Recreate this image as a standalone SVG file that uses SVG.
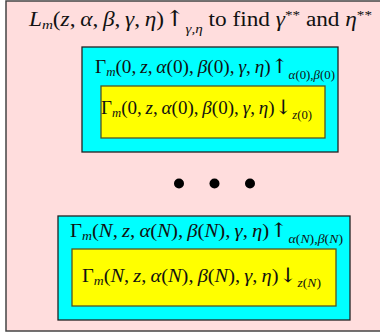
<svg xmlns="http://www.w3.org/2000/svg" width="380" height="334" viewBox="0 0 380 334">
<style>
.t{font-family:"Liberation Serif","DejaVu Serif",serif;fill:#111;}
.i{font-style:italic;}
.ar{font-family:"DejaVu Serif",serif;font-weight:200;}
.cyan{fill:#00ffff;stroke:#222;stroke-width:1.3;}
.yel{fill:#ffff00;stroke:#555522;stroke-width:1.3;}
.dot{fill:#000;}
</style>
<rect x="0" y="0" width="380" height="334" fill="#ffffff"/>
<rect x="6" y="1" width="380" height="330" fill="#ffdddd" stroke="#444" stroke-width="1.5"/>
<g id="title">
<text class="t" x="29" y="26" font-size="20" textLength="343" lengthAdjust="spacingAndGlyphs"><tspan class="i">L</tspan><tspan class="i" font-size="13" dy="3">m</tspan><tspan dy="-3">(</tspan><tspan class="i">z</tspan>,&#8201;<tspan class="i">α</tspan>,&#8201;<tspan class="i">β</tspan>,&#8201;<tspan class="i">γ</tspan>,&#8201;<tspan class="i">η</tspan>)<tspan class="ar" font-size="22">↑</tspan><tspan class="i" font-size="13" dy="7">γ,η</tspan><tspan dy="-7"> to find </tspan><tspan class="i">γ</tspan><tspan font-size="13" dy="-7">**</tspan><tspan dy="7"> and </tspan><tspan class="i">η</tspan><tspan font-size="13" dy="-7">**</tspan></text>
</g>
<g id="stage0">
<rect class="cyan" x="82" y="47" width="256" height="105"/>
<text class="t" x="95" y="73" font-size="18" textLength="240" lengthAdjust="spacingAndGlyphs">Γ<tspan class="i" font-size="12" dy="3">m</tspan><tspan dy="-3">(0,&#8201;</tspan><tspan class="i">z</tspan>,&#8201;<tspan class="i">α</tspan>(0),&#8201;<tspan class="i">β</tspan>(0),&#8201;<tspan class="i">γ</tspan>,&#8201;<tspan class="i">η</tspan>)<tspan class="ar" font-size="20">↑</tspan><tspan font-size="12" dy="6"><tspan class="i">α</tspan>(0),<tspan class="i">β</tspan>(0)</tspan></text>
</g>
<g id="stage0-inner">
<rect class="yel" x="101" y="86" width="224" height="52"/>
<text class="t" x="101" y="114" font-size="18" textLength="211" lengthAdjust="spacingAndGlyphs">Γ<tspan class="i" font-size="12" dy="3">m</tspan><tspan dy="-3">(0,&#8201;</tspan><tspan class="i">z</tspan>,&#8201;<tspan class="i">α</tspan>(0),&#8201;<tspan class="i">β</tspan>(0),&#8201;<tspan class="i">γ</tspan>,&#8201;<tspan class="i">η</tspan>)<tspan class="ar" font-size="20">↓</tspan><tspan font-size="12" dy="5"><tspan class="i">z</tspan>(0)</tspan></text>
</g>
<g id="ellipsis">
<circle class="dot" cx="179" cy="183.5" r="5"/>
<circle class="dot" cx="214.5" cy="183.5" r="5"/>
<circle class="dot" cx="250" cy="183.5" r="5"/>
</g>
<g id="stageN">
<rect class="cyan" x="58" y="216" width="292" height="104"/>
<text class="t" x="70" y="237" font-size="18" textLength="273" lengthAdjust="spacingAndGlyphs">Γ<tspan class="i" font-size="12" dy="3">m</tspan><tspan dy="-3">(</tspan><tspan class="i">N</tspan>,&#8201;<tspan class="i">z</tspan>,&#8201;<tspan class="i">α</tspan>(<tspan class="i">N</tspan>),&#8201;<tspan class="i">β</tspan>(<tspan class="i">N</tspan>),&#8201;<tspan class="i">γ</tspan>,&#8201;<tspan class="i">η</tspan>)<tspan class="ar" font-size="20">↑</tspan><tspan font-size="12" dy="6"><tspan class="i">α</tspan>(<tspan class="i">N</tspan>),<tspan class="i">β</tspan>(<tspan class="i">N</tspan>)</tspan></text>
</g>
<g id="stageN-inner">
<rect class="yel" x="72" y="249" width="264" height="57"/>
<text class="t" x="82" y="282" font-size="18" textLength="239" lengthAdjust="spacingAndGlyphs">Γ<tspan class="i" font-size="12" dy="3">m</tspan><tspan dy="-3">(</tspan><tspan class="i">N</tspan>,&#8201;<tspan class="i">z</tspan>,&#8201;<tspan class="i">α</tspan>(<tspan class="i">N</tspan>),&#8201;<tspan class="i">β</tspan>(<tspan class="i">N</tspan>),&#8201;<tspan class="i">γ</tspan>,&#8201;<tspan class="i">η</tspan>)<tspan class="ar" font-size="20">↓</tspan><tspan font-size="12" dy="5"><tspan class="i">z</tspan>(<tspan class="i">N</tspan>)</tspan></text>
</g>
</svg>
